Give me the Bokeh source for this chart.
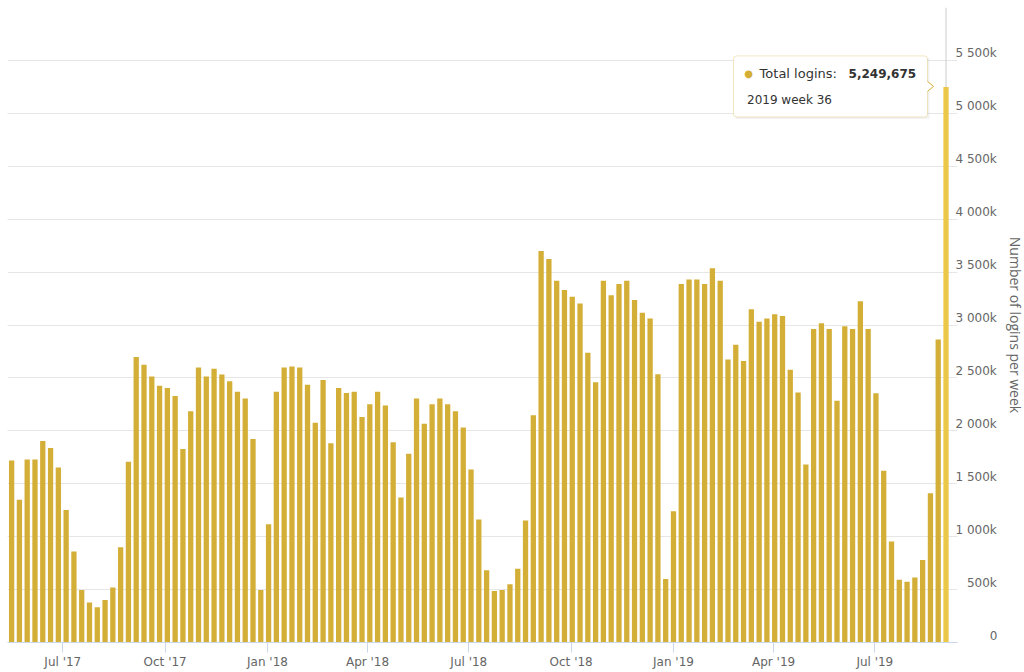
import pandas as pd
from bokeh.plotting import figure
from bokeh.models import (Range1d, FixedTicker, Grid, Label, ColumnDataSource,
                          BoxAnnotation, Span, LinearAxis)
from bokeh.embed import file_html
from bokeh.resources import INLINE

# ---------------- data ----------------
first_week = "2017-05-16"
logins = [
    1720000, 1350000, 1730000, 1730000, 1905000, 1838000, 1653000, 1252000, 860000, 497000,
    379000, 334000, 401000, 519000, 901000, 1707000, 2698000, 2624000, 2513000, 2427000,
    2405000, 2328000, 1828000, 2185000, 2599000, 2513000, 2586000, 2532000, 2468000, 2370000,
    2306000, 1924000, 497000, 1118000, 2370000, 2599000, 2609000, 2599000, 2436000, 2077000,
    2481000, 1882000, 2405000, 2357000, 2370000, 2131000, 2252000, 2370000, 2239000, 1892000,
    1370000, 1784000, 2306000, 2067000, 2252000, 2306000, 2252000, 2185000, 2032000, 1634000,
    1163000, 682000, 487000, 495000, 550000, 698000, 1152000, 2147000, 3700000, 3624000,
    3419000, 3331000, 3267000, 3204000, 2737000, 2459000, 3419000, 3280000, 3387000, 3419000,
    3236000, 3116000, 3062000, 2535000, 600000, 1241000, 3387000, 3429000, 3429000, 3387000,
    3536000, 3419000, 2674000, 2813000, 2660000, 3150000, 3030000, 3061000, 3101000, 3085000,
    2577000, 2362000, 1683000, 2963000, 3016000, 2963000, 2285000, 2988000, 2963000, 3224000,
    2963000, 2354000, 1622000, 955000, 593000, 573000, 614000, 780000, 1411000, 2862000,
    5249675,
]
series_name = "Total logins"
last_week_label = "2019 week 36"

xtick_dates = ["2017-07-01", "2017-10-01", "2018-01-01", "2018-04-01", "2018-07-01",
               "2018-10-01", "2019-01-01", "2019-04-01", "2019-07-01"]
xtick_labels = ["Jul '17", "Oct '17", "Jan '18", "Apr '18", "Jul '18",
                "Oct '18", "Jan '19", "Apr '19", "Jul '19"]

ytick_values = [0, 500000, 1000000, 1500000, 2000000, 2500000, 3000000,
                3500000, 4000000, 4500000, 5000000, 5500000, 6000000]
ytick_labels = ["0", "500k", "1 000k", "1 500k", "2 000k", "2 500k", "3 000k",
                "3 500k", "4 000k", "4 500k", "5 000k", "5 500k", ""]
y_title = "Number of logins per week"

# ---------------- styles ----------------
GOLD = "#d4af37"
GOLD_HOVER = "#ecc84a"
GRID = "#e6e6e6"
AXIS = "#ccd6eb"
LABEL = "#666666"
FONT = "DejaVu Sans"

FRAME_W = 950
FRAME_H = 635
LABEL_RAISE_PX = 7          # y labels sit slightly above their grid line


def ms(s):
    return pd.Timestamp(s).value // 10**6


def right_align(label):
    """Pad with figure spaces so left-aligned axis labels end at the same x."""
    if label == "" or " " in label:
        return label
    if len(label) == 1:
        return "\u2007" * 4 + " " + label
    return "\u2007" + " " + label


weeks = pd.date_range(first_week, periods=len(logins), freq="7D")
week_ms = [int(t.value // 10**6) for t in weeks]
colors = [GOLD] * (len(logins) - 1) + [GOLD_HOVER]
src = ColumnDataSource(dict(x=week_ms, top=logins, color=colors))

X0 = ms("2017-05-12 07:00")
X1 = ms("2019-09-13 08:00")
Y1 = ytick_values[-1]
ms_per_px = (X1 - X0) / FRAME_W
val_per_px = Y1 / FRAME_H

p = figure(frame_width=FRAME_W, frame_height=FRAME_H, x_axis_type="datetime",
           y_axis_location=None,
           x_range=Range1d(X0, X1), y_range=Range1d(0, Y1),
           output_backend="svg", toolbar_location=None,
           min_border_left=7, min_border_right=0, min_border_top=7, min_border_bottom=0)
p.outline_line_color = None
p.background_fill_color = "white"
p.border_fill_color = "white"
p.xgrid.visible = False

p.add_layout(Grid(dimension=1, ticker=FixedTicker(ticks=ytick_values),
                  grid_line_color=GRID, grid_line_width=1))

# crosshair at the hovered point
ax = week_ms[-1]
ay = logins[-1]
p.add_layout(Span(location=ax, dimension="height", line_color="#cccccc",
                  line_width=1, level="underlay"))

# bars
p.vbar(x="x", top="top", width=0.68 * 7 * 86400000, source=src,
       fill_color="color", line_color=None)

# x axis
xa = p.xaxis[0]
xa.ticker = FixedTicker(ticks=[ms(d) for d in xtick_dates], minor_ticks=[])
xa.major_label_overrides = {int(ms(d)): lab for d, lab in zip(xtick_dates, xtick_labels)}
xa.axis_line_color = AXIS
xa.major_tick_line_color = AXIS
xa.minor_tick_line_color = None
xa.major_tick_out = 10
xa.major_tick_in = 0
xa.major_label_standoff = 2
xa.major_label_text_font = FONT
xa.major_label_text_font_size = "12px"
xa.major_label_text_color = LABEL

# y axis on the right (labels raised a few pixels above their grid lines)
shift = LABEL_RAISE_PX * val_per_px
label_ticks = [int(round(v + shift)) for v in ytick_values]
ya = LinearAxis(ticker=FixedTicker(ticks=label_ticks, minor_ticks=[]),
                major_label_overrides={t: right_align(lab)
                                       for t, lab in zip(label_ticks, ytick_labels)},
                axis_line_color=None, major_tick_line_color=None, minor_tick_line_color=None,
                major_tick_out=0, major_tick_in=0,
                major_label_standoff=-2,
                major_label_text_font=FONT, major_label_text_font_size="12px",
                major_label_text_color=LABEL,
                axis_label=y_title, axis_label_standoff=6,
                axis_label_text_font="Open Sans", axis_label_text_font_size="14px",
                axis_label_text_font_style="normal", axis_label_text_color=LABEL)
p.add_layout(ya, "right")

# ---------------- tooltip ----------------
def dx(px):
    return ax + px * ms_per_px


def dy(py):
    return ay + py * val_per_px


p.add_layout(BoxAnnotation(left=dx(-210.5), right=dx(-16.5), top=dy(29), bottom=dy(-32),
                           fill_color="black", fill_alpha=0.05, line_color=None,
                           level="underlay"))
p.add_layout(BoxAnnotation(left=dx(-212.5), right=dx(-18.5), top=dy(31), bottom=dy(-30),
                           fill_color="white", fill_alpha=0.95, line_color=GOLD,
                           line_width=1, border_radius=3, level="underlay"))
p.patch(x=[dx(-19.5), dx(-12.5), dx(-19.5)], y=[dy(6), dy(0.5), dy(-5)],
        fill_color="white", line_color=None)
p.line(x=[dx(-18.5), dx(-12.5), dx(-18.5)], y=[dy(5.5), dy(0.5), dy(-4.5)],
       line_color=GOLD, line_width=1)

p.add_layout(Label(x=ax, y=ay, x_offset=-197.4, y_offset=13, text="\u25CF",
                   text_align="center", text_baseline="middle",
                   text_font=FONT, text_font_size="10px", text_color=GOLD))
p.add_layout(Label(x=ax, y=ay, x_offset=-186.4, y_offset=13, text=series_name + ": ",
                   text_align="left", text_baseline="middle",
                   text_font=FONT, text_font_size="13px", text_color="#333333"))
p.add_layout(Label(x=ax, y=ay, x_offset=-97.4, y_offset=13, text=f"{logins[-1]:,}",
                   text_align="left", text_baseline="middle", text_font_style="bold",
                   text_font=FONT, text_font_size="12px", text_color="#333333"))
p.add_layout(Label(x=ax, y=ay, x_offset=-199, y_offset=-13, text=last_week_label,
                   text_align="left", text_baseline="middle",
                   text_font=FONT, text_font_size="12px", text_color="#333333"))

open("out.html", "w").write(file_html(p, INLINE))
